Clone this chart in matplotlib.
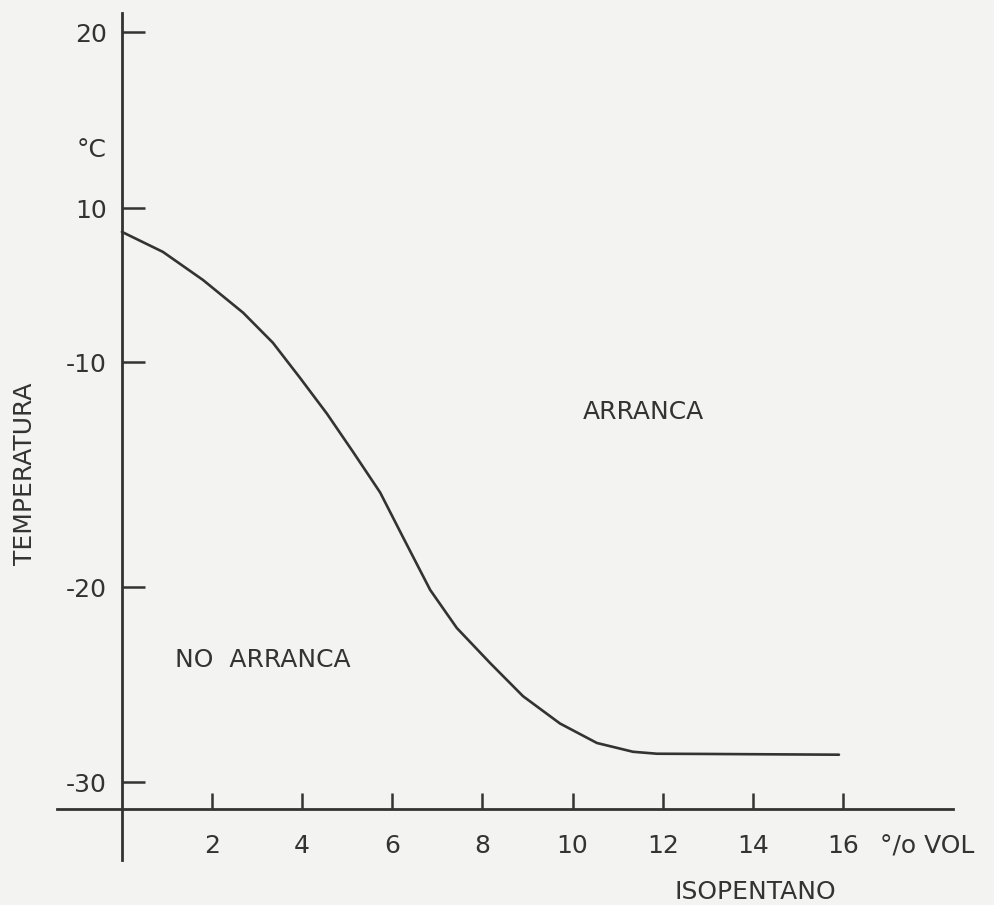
import numpy as np
import matplotlib
matplotlib.use("Agg")
import matplotlib.pyplot as plt
from matplotlib.ticker import FixedLocator, FixedFormatter

# --- data -------------------------------------------------------------
isopentano_pct = [0, 0.91, 1.8, 2.69, 3.35, 3.95, 4.55, 5.13, 5.73, 6.24,
                  6.84, 7.43, 8.17, 8.9, 9.72, 10.54, 11.34, 11.87, 12.83, 15.91]
temperatura_c = [6.9, 4.3, 0.65, -3.6, -7.5, -10.7, -12.3, -14.0, -15.8, -17.8,
                 -20.15, -22.1, -23.9, -25.6, -27.0, -28.0, -28.45, -28.55, -28.56, -28.6]

x_ticks = [2, 4, 6, 8, 10, 12, 14, 16]
x_tick_labels = ["2", "4", "6", "8", "10", "12", "14", "16"]
y_ticks = [20, 10, -10, -20, -30]
y_tick_labels = ["20", "10", "-10", "-20", "-30"]

# Hand-drawn temperature axis: graduations are unevenly spaced, so the
# scale is piecewise linear between the labelled graduations.
scale_vals = np.array([-30.0, -20.0, -10.0, 10.0, 20.0])
scale_pos = np.array([-782.0, -587.0, -362.0, -208.0, -32.0])


def _fwd(v):
    v = np.asarray(v, dtype=float)
    out = np.interp(v, scale_vals, scale_pos)
    lo_slope = (scale_pos[1] - scale_pos[0]) / (scale_vals[1] - scale_vals[0])
    hi_slope = (scale_pos[-1] - scale_pos[-2]) / (scale_vals[-1] - scale_vals[-2])
    out = np.where(v < scale_vals[0], scale_pos[0] + (v - scale_vals[0]) * lo_slope, out)
    out = np.where(v > scale_vals[-1], scale_pos[-1] + (v - scale_vals[-1]) * hi_slope, out)
    return out


def _inv(p):
    p = np.asarray(p, dtype=float)
    out = np.interp(p, scale_pos, scale_vals)
    lo_slope = (scale_vals[1] - scale_vals[0]) / (scale_pos[1] - scale_pos[0])
    hi_slope = (scale_vals[-1] - scale_vals[-2]) / (scale_pos[-1] - scale_pos[-2])
    out = np.where(p < scale_pos[0], scale_vals[0] + (p - scale_pos[0]) * lo_slope, out)
    out = np.where(p > scale_pos[-1], scale_vals[-1] + (p - scale_pos[-1]) * hi_slope, out)
    return out


# --- style ------------------------------------------------------------
paper = "#f3f3f1"
ink = "#333333"
fs = 18
plt.rcParams["font.family"] = ["DejaVu Sans"]

W, H = 994, 905
fig = plt.figure(figsize=(W / 100, H / 100), dpi=100, facecolor=paper)
ax = fig.add_axes([57 / W, 1 - 860 / H, (953 - 57) / W, (860 - 13) / H])
ax.set_facecolor(paper)

ax.set_yscale("function", functions=(_fwd, _inv))
ax.set_xlim(-1.44, 18.44)
ax.set_ylim(-34.0, 21.08)

# Axes drawn as crossing lines with overhang
for side in ("top", "right"):
    ax.spines[side].set_visible(False)
ax.spines["left"].set_position(("data", 0))
ax.spines["bottom"].set_position(("data", -31.4))
for side in ("left", "bottom"):
    ax.spines[side].set_color(ink)
    ax.spines[side].set_linewidth(2.0)

ax.xaxis.set_major_locator(FixedLocator(x_ticks))
ax.xaxis.set_major_formatter(FixedFormatter(x_tick_labels))
ax.yaxis.set_major_locator(FixedLocator(y_ticks))
ax.yaxis.set_major_formatter(FixedFormatter(y_tick_labels))
ax.yaxis.set_minor_locator(FixedLocator([]))

ax.tick_params(axis="y", direction="in", length=16.5, width=1.8, color=ink,
               labelsize=fs, labelcolor=ink, pad=11)
ax.tick_params(axis="x", direction="in", length=11.5, width=1.8, color=ink,
               labelsize=fs, labelcolor=ink, pad=18)

# Boundary curve
ax.plot(isopentano_pct, temperatura_c, color=ink, linewidth=1.9,
        solid_joinstyle="round", solid_capstyle="round")

# Region labels
ax.text(3.12, -23.74, "NO  ARRANCA", fontsize=fs, color=ink,
        ha="center", va="center")
ax.text(11.58, -12.22, "ARRANCA", fontsize=fs, color=ink,
        ha="center", va="center")

# Axis titles and units
fig.text(92 / W, 1 - 150 / H, "°C", fontsize=fs, color=ink,
         ha="center", va="center")
fig.text(25 / W, 1 - 474 / H, "TEMPERATURA", fontsize=fs, color=ink,
         ha="center", va="center", rotation=90)
fig.text(880 / W, 1 - 846 / H, "°/o VOL", fontsize=fs, color=ink,
         ha="left", va="center")
fig.text(755 / W, 1 - 892 / H, "ISOPENTANO", fontsize=fs, color=ink,
         ha="center", va="center")

fig.savefig("out.png", dpi=100, facecolor=paper)
